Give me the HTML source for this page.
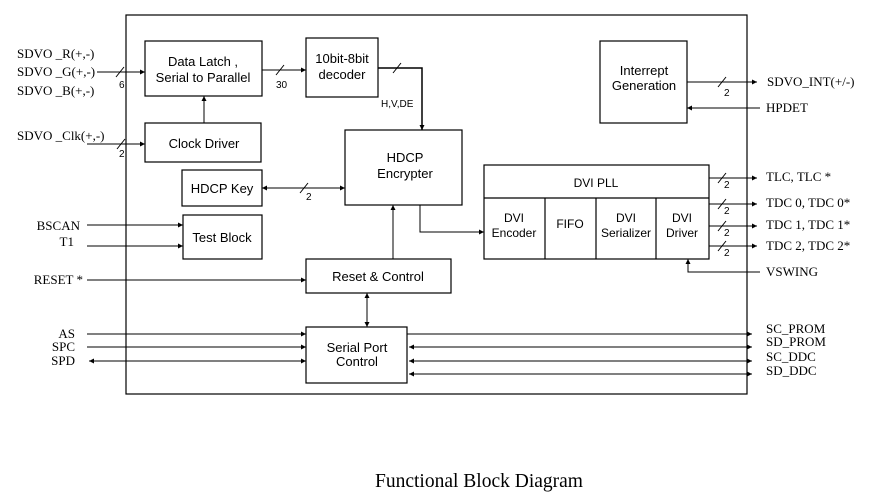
<!DOCTYPE html>
<html><head><style>
body{margin:0;background:#fff;width:871px;height:500px;overflow:hidden}
svg{display:block}
.s{font-family:"Liberation Serif",serif;font-size:13px;fill:#000}
.a{font-family:"Liberation Sans",sans-serif;font-size:13px;fill:#000}
.n{font-family:"Liberation Sans",sans-serif;font-size:10px;fill:#000}
</style></head><body>
<svg width="871" height="500" viewBox="0 0 871 500">
<defs>
<marker id="ar" markerWidth="6" markerHeight="6" refX="5" refY="3" orient="auto-start-reverse" markerUnits="userSpaceOnUse"><path d="M0,0.5 L5,3 L0,5.5z" fill="#000"/></marker>
</defs>
<g fill="none" stroke="#000" stroke-width="1.2">
<rect x="126" y="15" width="621" height="379"/>
<rect x="145" y="41" width="117" height="55"/>
<rect x="306" y="38" width="72" height="59"/>
<rect x="145" y="123" width="116" height="39"/>
<rect x="182" y="170" width="80" height="36"/>
<rect x="345" y="130" width="117" height="75"/>
<rect x="183" y="215" width="79" height="44"/>
<rect x="306" y="259" width="145" height="34"/>
<rect x="306" y="327" width="101" height="56"/>
<rect x="600" y="41" width="87" height="82"/>
<rect x="484" y="165" width="225" height="94"/>
<path d="M484 198H709M545 198V259M596 198V259M656 198V259"/>
</g>
<g fill="none" stroke="#000" stroke-width="1" marker-end="url(#ar)">
<path d="M97 72H145"/>
<path d="M262 70H306"/>
<path d="M378 68H422V130" stroke-width="1.5"/>
<path d="M204 123V96"/>
<path d="M87 144H145"/>
<path d="M262 188H345" marker-start="url(#ar)"/>
<path d="M393 259V205"/>
<path d="M420 205V232H484"/>
<path d="M87 225H183"/>
<path d="M87 246H183"/>
<path d="M87 280H306"/>
<path d="M367 293V327" marker-start="url(#ar)"/>
<path d="M87 334H306"/>
<path d="M87 347H306"/>
<path d="M89 361H306" marker-start="url(#ar)"/>
<path d="M407 334H752"/>
<path d="M409 347H752" marker-start="url(#ar)"/>
<path d="M409 361H752" marker-start="url(#ar)"/>
<path d="M409 374H752" marker-start="url(#ar)"/>
<path d="M687 82H757"/>
<path d="M760 108H687"/>
<path d="M709 178H757"/>
<path d="M709 204H757"/>
<path d="M709 226H757"/>
<path d="M709 246H757"/>
<path d="M760 272H688V259"/>
</g>
<g stroke="#000" stroke-width="1">
<path d="M116 77L124 67M276 75L284 65M393 73L401 63M117 149L125 139M300 193L308 183M718 87L726 77M718 183L726 173M718 209L726 199M718 231L726 221M718 251L726 241"/>
</g>
<g class="n">
<text x="119" y="88">6</text><text x="276" y="88">30</text><text x="381" y="107">H,V,DE</text>
<text x="119" y="157">2</text><text x="306" y="200">2</text><text x="724" y="96">2</text>
<text x="724" y="188">2</text><text x="724" y="214">2</text><text x="724" y="236">2</text><text x="724" y="256">2</text>
</g>
<g class="a" text-anchor="middle">
<text x="203" y="66">Data Latch ,</text><text x="203" y="82">Serial to Parallel</text>
<text x="342" y="63">10bit-8bit</text><text x="342" y="79">decoder</text>
<text x="204" y="148">Clock Driver</text>
<text x="222" y="193">HDCP Key</text>
<text x="405" y="162">HDCP</text><text x="405" y="178">Encrypter</text>
<text x="222" y="242">Test Block</text>
<text x="378" y="281">Reset &amp; Control</text>
<text x="357" y="352">Serial Port</text><text x="357" y="366">Control</text>
<text x="644" y="75">Interrept</text><text x="644" y="90">Generation</text>
<text x="596" y="187" font-size="12">DVI PLL</text>
<g font-size="12"><text x="514" y="222">DVI</text><text x="514" y="237">Encoder</text>
<text x="570" y="228">FIFO</text>
<text x="626" y="222">DVI</text><text x="626" y="237">Serializer</text>
<text x="682" y="222">DVI</text><text x="682" y="237">Driver</text></g>
</g>
<g class="s">
<text x="17" y="58">SDVO _R(+,-)</text><text x="17" y="76">SDVO _G(+,-)</text><text x="17" y="95">SDVO _B(+,-)</text>
<text x="17" y="140">SDVO _Clk(+,-)</text>
<text x="80" y="230" text-anchor="end">BSCAN</text><text x="74" y="246" text-anchor="end">T1</text>
<text x="83" y="284" text-anchor="end">RESET *</text>
<text x="75" y="338" text-anchor="end">AS</text><text x="75" y="351" text-anchor="end">SPC</text><text x="75" y="365" text-anchor="end">SPD</text>
<text x="767" y="86">SDVO_INT(+/-)</text><text x="766" y="112">HPDET</text>
<text x="766" y="181">TLC, TLC *</text><text x="766" y="207">TDC 0, TDC 0*</text>
<text x="766" y="229">TDC 1, TDC 1*</text><text x="766" y="250">TDC 2, TDC 2*</text>
<text x="766" y="276">VSWING</text>
<text x="766" y="333">SC_PROM</text><text x="766" y="346">SD_PROM</text><text x="766" y="361">SC_DDC</text><text x="766" y="375">SD_DDC</text>
<text x="479" y="487" text-anchor="middle" font-size="19.5">Functional Block Diagram</text>
</g>
</svg>
</body></html>
